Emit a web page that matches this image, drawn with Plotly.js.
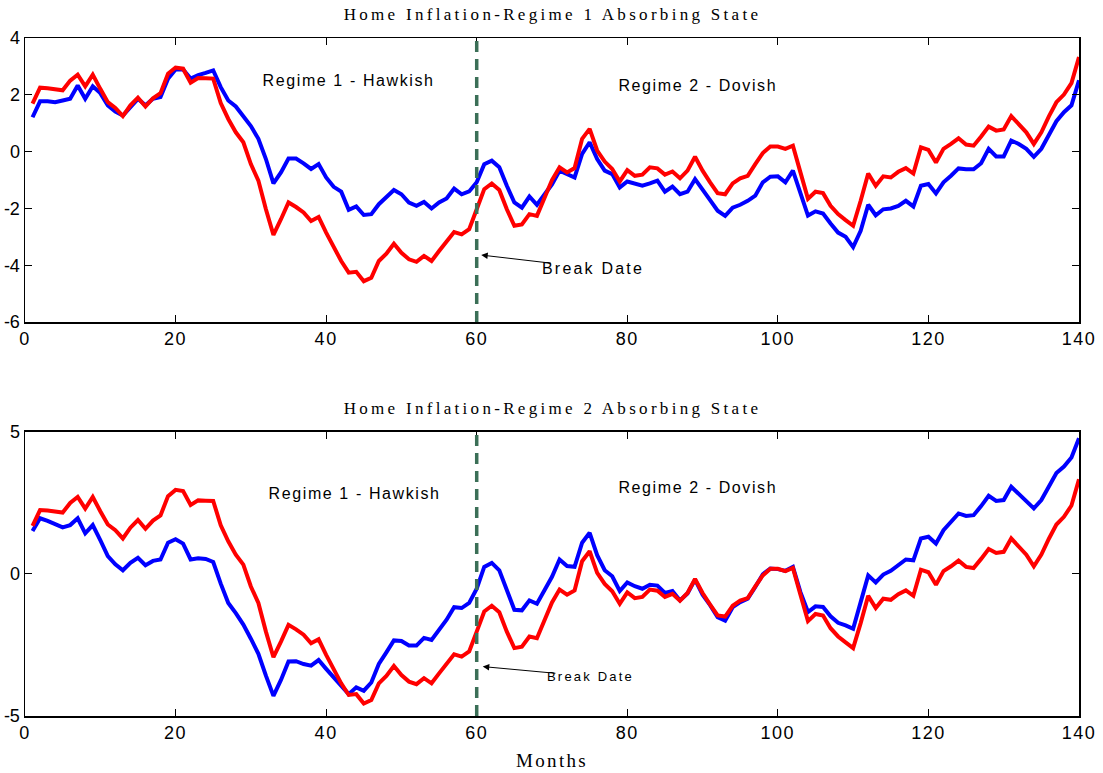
<!DOCTYPE html>
<html>
<head>
<meta charset="utf-8">
<script src="https://cdn.plot.ly/plotly-3.0.1.min.js"></script>
<style>
  html, body { margin: 0; padding: 0; background: #ffffff; }
  #chart { width: 1103px; height: 773px; }
  /* wide MATLAB-style spacing on the text elements */
  .annotation[data-index="0"] .annotation-text,
  .annotation[data-index="1"] .annotation-text { letter-spacing: 3.3px; }
  .annotation[data-index="2"] .annotation-text { letter-spacing: 2.3px; }
  .annotation[data-index="3"] .annotation-text,
  .annotation[data-index="4"] .annotation-text,
  .annotation[data-index="5"] .annotation-text,
  .annotation[data-index="6"] .annotation-text { letter-spacing: 1.6px; }
  .annotation[data-index="7"] .annotation-text { letter-spacing: 2.2px; }
  .annotation[data-index="8"] .annotation-text { letter-spacing: 2.2px; }
  .xtick text, .x2tick text { letter-spacing: 1.5px; }
</style>
</head>
<body>
<div id="chart"></div>
<script>
// Months 1..140
const months = [
  1,2,3,4,5,6,7,8,9,10,11,12,13,14,15,16,17,18,19,20,
  21,22,23,24,25,26,27,28,29,30,31,32,33,34,35,36,37,38,39,40,
  41,42,43,44,45,46,47,48,49,50,51,52,53,54,55,56,57,58,59,60,
  61,62,63,64,65,66,67,68,69,70,71,72,73,74,75,76,77,78,79,80,
  81,82,83,84,85,86,87,88,89,90,91,92,93,94,95,96,97,98,99,100,
  101,102,103,104,105,106,107,108,109,110,111,112,113,114,115,116,117,118,119,120,
  121,122,123,124,125,126,127,128,129,130,131,132,133,134,135,136,137,138,139,140
];

// Home inflation (red, shared by both panels)
const homeInflation = [
  1.69,2.25,2.23,2.20,2.16,2.50,2.71,2.30,2.71,2.21,1.74,1.54,1.25,1.63,1.90,1.59,1.88,2.06,2.74,2.96,
  2.92,2.43,2.59,2.58,2.57,1.71,1.15,0.68,0.33,-0.44,-1.02,-2.03,-2.93,-2.38,-1.79,-1.95,-2.14,-2.44,-2.30,-2.85,
  -3.38,-3.85,-4.26,-4.23,-4.56,-4.44,-3.85,-3.59,-3.24,-3.56,-3.79,-3.88,-3.67,-3.85,-3.50,-3.14,-2.83,-2.91,-2.73,-2.03,
  -1.32,-1.12,-1.35,-2.03,-2.61,-2.56,-2.20,-2.26,-1.60,-1.00,-0.55,-0.73,-0.58,0.45,0.80,0.04,-0.35,-0.61,-1.05,-0.65,
  -0.85,-0.81,-0.55,-0.59,-0.81,-0.70,-0.94,-0.67,-0.18,-0.67,-1.08,-1.46,-1.50,-1.12,-0.94,-0.85,-0.44,-0.05,0.18,0.18,
  0.10,0.21,-0.73,-1.66,-1.41,-1.46,-1.91,-2.20,-2.41,-2.61,-1.73,-0.77,-1.20,-0.87,-0.91,-0.71,-0.58,-0.77,0.15,0.06,
  -0.38,0.10,0.27,0.47,0.25,0.21,0.53,0.88,0.74,0.78,1.25,0.98,0.68,0.27,0.68,1.24,1.74,2.01,2.41,3.33
];

// Counterfactual path, regime 1 absorbing state (blue, top panel)
const regime1Path = [
  1.21,1.77,1.77,1.74,1.80,1.86,2.33,1.86,2.30,2.06,1.63,1.41,1.27,1.57,1.86,1.63,1.86,1.92,2.57,2.89,
  2.89,2.57,2.69,2.77,2.86,2.27,1.80,1.59,1.24,0.90,0.45,-0.26,-1.12,-0.73,-0.24,-0.24,-0.41,-0.61,-0.44,-0.91,
  -1.24,-1.41,-2.05,-1.93,-2.23,-2.20,-1.85,-1.61,-1.35,-1.50,-1.79,-1.91,-1.77,-2.00,-1.79,-1.65,-1.30,-1.50,-1.40,-1.08,
  -0.44,-0.32,-0.55,-1.20,-1.79,-1.97,-1.58,-1.87,-1.50,-1.15,-0.67,-0.79,-0.91,-0.08,0.33,-0.26,-0.67,-0.79,-1.26,-1.05,
  -1.12,-1.20,-1.12,-1.02,-1.41,-1.23,-1.50,-1.41,-0.97,-1.32,-1.71,-2.08,-2.26,-1.97,-1.87,-1.73,-1.55,-1.08,-0.88,-0.87,
  -1.08,-0.67,-1.50,-2.25,-2.10,-2.18,-2.53,-2.85,-3.00,-3.36,-2.79,-1.87,-2.24,-2.03,-2.00,-1.91,-1.73,-1.93,-1.20,-1.14,
  -1.47,-1.08,-0.85,-0.59,-0.62,-0.62,-0.41,0.10,-0.17,-0.17,0.39,0.27,0.10,-0.18,0.10,0.57,1.07,1.39,1.63,2.51
];

// Counterfactual path, regime 2 absorbing state (blue, bottom panel)
const regime2Path = [
  1.51,1.96,1.87,1.76,1.64,1.72,1.96,1.43,1.72,1.19,0.63,0.34,0.13,0.39,0.57,0.31,0.46,0.51,1.10,1.22,
  1.07,0.51,0.55,0.53,0.42,-0.34,-1.02,-1.38,-1.78,-2.28,-2.81,-3.58,-4.29,-3.73,-3.08,-3.07,-3.17,-3.23,-3.03,-3.34,
  -3.64,-3.93,-4.23,-3.99,-4.11,-3.82,-3.17,-2.76,-2.34,-2.36,-2.52,-2.52,-2.25,-2.32,-1.99,-1.61,-1.17,-1.20,-1.02,-0.52,
  0.25,0.39,0.13,-0.58,-1.26,-1.28,-0.93,-1.05,-0.55,-0.10,0.51,0.28,0.25,1.10,1.45,0.66,0.13,-0.08,-0.60,-0.30,
  -0.43,-0.52,-0.38,-0.41,-0.67,-0.60,-0.93,-0.69,-0.20,-0.73,-1.10,-1.52,-1.64,-1.17,-0.99,-0.87,-0.46,-0.01,0.19,0.17,
  0.11,0.25,-0.64,-1.34,-1.14,-1.16,-1.49,-1.72,-1.81,-1.93,-0.99,-0.05,-0.30,-0.02,0.11,0.31,0.51,0.48,1.25,1.31,
  1.07,1.54,1.84,2.13,2.04,2.07,2.39,2.75,2.57,2.60,3.07,2.82,2.57,2.31,2.60,3.10,3.55,3.78,4.10,4.78
];

const breakMonth = 60;

const xTicks = [0, 20, 40, 60, 80, 100, 120, 140];
const yTicksTop = [4, 2, 0, -2, -4, -6];
const yTicksBottom = [5, 0, -5];

const panelTitles = [
  'Home Inflation-Regime 1 Absorbing State',
  'Home Inflation-Regime 2 Absorbing State'
];
const regimeLabels = ['Regime 1 - Hawkish', 'Regime 2 - Dovish'];
const breakLabel = 'Break Date';
const xLabel = 'Months';

const blue = '#0000ff';
const red = '#ff0000';
const lineW = 4;

const traces = [
  { x: months, y: regime1Path, xaxis: 'x', yaxis: 'y', mode: 'lines',
    line: { color: blue, width: lineW }, hoverinfo: 'skip' },
  { x: months, y: homeInflation, xaxis: 'x', yaxis: 'y', mode: 'lines',
    line: { color: red, width: lineW }, hoverinfo: 'skip' },
  { x: months, y: regime2Path, xaxis: 'x2', yaxis: 'y2', mode: 'lines',
    line: { color: blue, width: lineW }, hoverinfo: 'skip' },
  { x: months, y: homeInflation, xaxis: 'x2', yaxis: 'y2', mode: 'lines',
    line: { color: red, width: lineW }, hoverinfo: 'skip' }
];

const tickFont = { family: 'Liberation Sans, Arial, sans-serif', size: 18, color: '#000' };
const serifFont = { family: 'Liberation Serif, Times New Roman, serif', size: 17, color: '#000' };
const labelFont = { family: 'Liberation Sans, Arial, sans-serif', size: 16, color: '#000' };

function axisBase() {
  return {
    showgrid: false, zeroline: false, showline: true, linecolor: '#000', linewidth: 1.5,
    mirror: 'ticks', ticks: 'inside', ticklen: 7, tickwidth: 1, tickcolor: '#000',
    tickfont: tickFont, fixedrange: true, ticklabelstandoff: 0
  };
}

const layout = {
  width: 1103, height: 773,
  margin: { l: 25, r: 24, t: 38, b: 57 },
  paper_bgcolor: '#ffffff', plot_bgcolor: '#ffffff',
  showlegend: false,
  xaxis: Object.assign(axisBase(), {
    domain: [0, 1], anchor: 'y', range: [0, 140],
    tickvals: xTicks, ticktext: xTicks.map(String)
  }),
  yaxis: Object.assign(axisBase(), {
    domain: [0.581, 1], anchor: 'x', range: [-6, 4],
    tickvals: yTicksTop, ticktext: yTicksTop.map(String)
  }),
  xaxis2: Object.assign(axisBase(), {
    domain: [0, 1], anchor: 'y2', range: [0, 140],
    tickvals: xTicks, ticktext: xTicks.map(String)
  }),
  yaxis2: Object.assign(axisBase(), {
    domain: [0, 0.419], anchor: 'x2', range: [-5, 5],
    tickvals: yTicksBottom, ticktext: yTicksBottom.map(String)
  }),
  shapes: [
    { type: 'line', xref: 'x', yref: 'y domain', x0: breakMonth, x1: breakMonth, y0: 0, y1: 1,
      line: { color: '#3b6f57', width: 3.5, dash: '11px,7px' } },
    { type: 'line', xref: 'x2', yref: 'y2 domain', x0: breakMonth, x1: breakMonth, y0: 0, y1: 1,
      line: { color: '#3b6f57', width: 3.5, dash: '11px,7px' } }
  ],
  annotations: [
    { text: panelTitles[0], xref: 'paper', yref: 'paper', x: 0.5, y: 1.034,
      xanchor: 'center', yanchor: 'middle', showarrow: false, font: serifFont },
    { text: panelTitles[1], xref: 'paper', yref: 'paper', x: 0.5, y: 0.453,
      xanchor: 'center', yanchor: 'middle', showarrow: false, font: serifFont },
    { text: xLabel, xref: 'paper', yref: 'paper', x: 0.5, y: -0.065,
      xanchor: 'center', yanchor: 'middle', showarrow: false,
      font: { family: serifFont.family, size: 19, color: '#000' } },

    { text: regimeLabels[0], xref: 'x', yref: 'y', x: 43, y: 2.5,
      showarrow: false, font: labelFont },
    { text: regimeLabels[1], xref: 'x', yref: 'y', x: 89.4, y: 2.33,
      showarrow: false, font: labelFont },
    { text: regimeLabels[0], xref: 'x2', yref: 'y2', x: 43.8, y: 2.82,
      showarrow: false, font: labelFont },
    { text: regimeLabels[1], xref: 'x2', yref: 'y2', x: 89.4, y: 3.06,
      showarrow: false, font: labelFont },

    { text: breakLabel, xref: 'x', yref: 'y', x: 60.6, y: -3.64,
      axref: 'x', ayref: 'y', ax: 75.5, ay: -4.1,
      showarrow: true, arrowhead: 2, arrowsize: 1.3, arrowwidth: 1, arrowcolor: '#000',
      standoff: 0, startstandoff: 1, font: labelFont },
    { text: breakLabel, xref: 'x2', yref: 'y2', x: 60.8, y: -3.26,
      axref: 'x2', ayref: 'y2', ax: 75.1, ay: -3.61,
      showarrow: true, arrowhead: 2, arrowsize: 1.3, arrowwidth: 1, arrowcolor: '#000',
      standoff: 0, startstandoff: 1,
      font: { family: labelFont.family, size: 13, color: '#000' } }
  ]
};

Plotly.newPlot('chart', traces, layout, { staticPlot: true, displayModeBar: false });
</script>
</body>
</html>
